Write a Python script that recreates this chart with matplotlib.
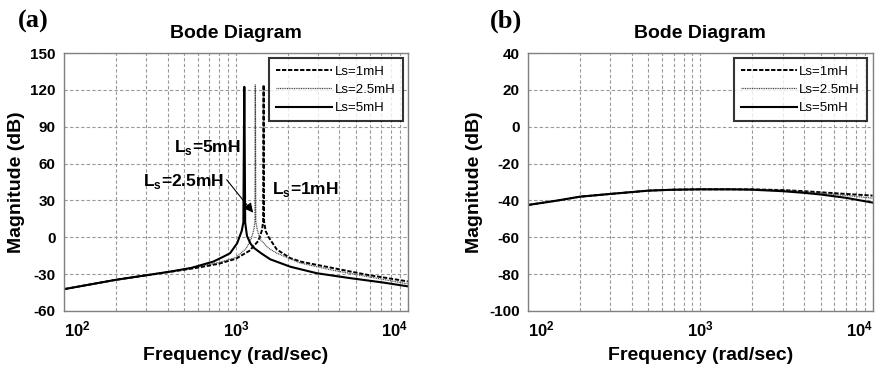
import numpy as np
import matplotlib
matplotlib.use("Agg")
import matplotlib.pyplot as plt
from matplotlib.ticker import FixedLocator, LogLocator, NullFormatter

plt.rcParams['font.family'] = ['Liberation Sans', 'DejaVu Sans']
plt.rcParams['mathtext.fontset'] = 'custom'
plt.rcParams['mathtext.rm'] = 'Liberation Sans'
plt.rcParams['mathtext.bf'] = 'Liberation Sans:bold'

# (a) 幅频特性，三种 Ls
f_1mH = [100, 200, 400, 600, 800, 1000, 1200, 1350, 1420, 1440, 1448, 1450, 1458, 1490, 1550, 1730, 2070, 2400, 3700, 5800, 10000]
mag_1mH = [-42.3, -34.7, -28.5, -24.8, -21.5, -17.5, -11, -3, 6, 13, 124, 124, 13, 5, 0, -10, -17, -20, -25.2, -30.6, -36]

f_25mH = [100, 200, 400, 600, 800, 1000, 1150, 1230, 1275, 1290, 1296, 1298, 1305, 1330, 1390, 1550, 1730, 2370, 3700, 5800, 10000]
mag_25mH = [-42.3, -34.7, -28.3, -24, -20.5, -16.5, -9, -1, 7, 13, 124, 124, 13, 6, -2, -9, -13, -21, -27, -32, -38]

f_5mH = [100, 200, 415, 550, 740, 850, 925, 1016, 1080, 1105, 1118, 1120, 1132, 1160, 1214, 1268, 1400, 1585, 2070, 2950, 4610, 7190, 10000]
mag_5mH = [-42.3, -34.7, -28, -25, -19.8, -15.7, -13, -5, 5, 12, 122.5, 122.5, 12, 1, -5, -8.5, -13, -18, -24, -29.3, -33.3, -36.9, -40]

# (b)
f_b = [100, 150, 200, 300, 500, 700, 1000, 1500, 2000, 3000, 4000, 5000, 7000, 10000]
mag_b_1mH = [-42.5, -40, -38, -36.5, -34.7, -34.2, -34, -34, -34, -34.4, -35, -35.6, -36.5, -37.4]
mag_b_25mH = [-42.5, -40, -38, -36.5, -34.7, -34.2, -34, -34, -34, -34.5, -35.3, -36.1, -37.3, -38.8]
mag_b_5mH = [-42.5, -40, -38, -36.5, -34.7, -34.2, -34, -34, -34.2, -35, -35.9, -36.8, -38.6, -41.2]

labels = ['Ls=1mH', 'Ls=2.5mH', 'Ls=5mH']
styles = [dict(color='black', lw=1.4, dashes=(2.2, 0.9)),
          dict(color='#444444', lw=0.9, dashes=(0.8, 0.6)),
          dict(color='black', lw=1.5, ls='-')]

fig = plt.figure(figsize=(8.77, 3.71), dpi=100)
ax1 = fig.add_axes([0.073, 0.162, 0.392, 0.695])
ax2 = fig.add_axes([0.602, 0.162, 0.393, 0.695])


def style_axes(ax, yticks):
    ax.set_xscale('log')
    ax.set_xlim(100, 10000)
    ax.set_ylim(yticks[0], yticks[-1])
    ax.yaxis.set_major_locator(FixedLocator(yticks))
    ax.set_yticklabels([str(v) for v in yticks], fontweight='bold', fontsize=11)
    ax.xaxis.set_major_locator(FixedLocator([100, 1000, 10000]))
    ax.set_xticklabels([r'$\mathbf{10^{2}}$', r'$\mathbf{10^{3}}$', r'$\mathbf{10^{4}}$'], fontsize=12)
    xt = ax.get_xticklabels()
    xt[0].set_horizontalalignment('left')
    xt[-1].set_horizontalalignment('right')
    ax.xaxis.set_minor_locator(LogLocator(base=10, subs=np.arange(2, 10)))
    ax.xaxis.set_minor_formatter(NullFormatter())
    ax.grid(True, which='both', axis='x', color='#999999', ls=(0, (3, 2)), lw=0.8)
    ax.grid(True, which='major', axis='y', color='#999999', ls=(0, (3, 2)), lw=0.8)
    ax.tick_params(which='both', direction='in', length=0, pad=6, colors='black')
    for s in ax.spines.values():
        s.set_color('#808080')
        s.set_linewidth(1.0)
    ax.set_title('Bode Diagram', fontweight='bold', fontsize=14, pad=11)
    ax.set_xlabel('Frequency (rad/sec)', fontweight='bold', fontsize=14, labelpad=6)
    ax.set_ylabel('Magnitude (dB)', fontweight='bold', fontsize=14, labelpad=4)


for f, m, lab, st in zip([f_1mH, f_25mH, f_5mH], [mag_1mH, mag_25mH, mag_5mH], labels, styles):
    ax1.plot(f, m, label=lab, **st)
for m, lab, st in zip([mag_b_1mH, mag_b_25mH, mag_b_5mH], labels, styles):
    ax2.plot(f_b, m, label=lab, **st)

style_axes(ax1, [-60, -30, 0, 30, 60, 90, 120, 150])
style_axes(ax2, [-100, -80, -60, -40, -20, 0, 20, 40])

for ax in (ax1, ax2):
    leg = ax.legend(loc='upper right', fontsize=9.5, frameon=True, fancybox=False,
                    handlelength=4.2, handletextpad=0.2, borderpad=0.55,
                    labelspacing=0.45, borderaxespad=0.4)
    leg.get_frame().set_edgecolor('black')
    leg.get_frame().set_linewidth(1.5)

# 标注
ax1.text(434, 73, r'L$_\mathbf{s}$=5mH', fontweight='bold', fontsize=12.5, va='center')
ax1.text(1622, 38.5, r'L$_\mathbf{s}$=1mH', fontweight='bold', fontsize=12.5, va='center')
ax1.annotate(r'L$_\mathbf{s}$=2.5mH', xy=(1260, 20), xytext=(287, 45),
             fontweight='bold', fontsize=12.5, va='center',
             arrowprops=dict(arrowstyle='-|>', color='black', lw=0.8,
                             mutation_scale=14, shrinkA=0, shrinkB=0,
                             relpos=(1.0, 0.8)))

fig.text(18 / 877, 1 - 21 / 371, '(a)', family='Liberation Serif', fontweight='bold', fontsize=19, va='center')
fig.text(490 / 877, 1 - 21 / 371, '(b)', family='Liberation Serif', fontweight='bold', fontsize=19, va='center')

fig.savefig('out.png', dpi=100)
